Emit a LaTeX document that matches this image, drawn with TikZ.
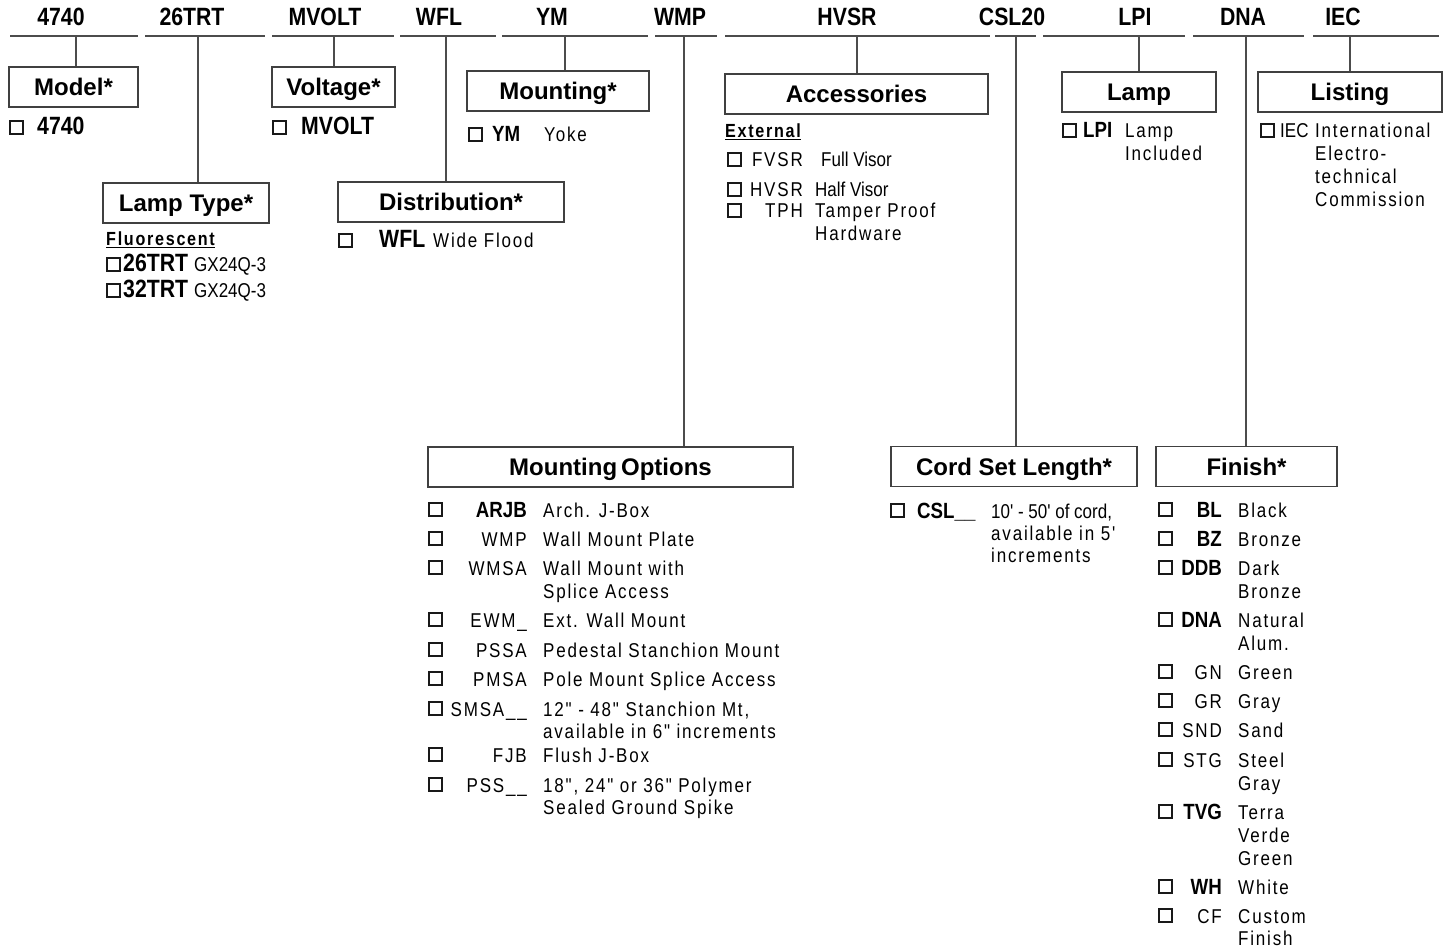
\documentclass[tikz,border=0pt]{standalone}
\usepackage{fontspec}
\setmainfont{Liberation Sans}
\newfontfamily\narrowfam{Liberation Sans}[FakeStretch=0.85]
\newfontfamily\spacedfam{Liberation Sans}[FakeStretch=0.85,LetterSpace=9]
\newcommand{\hdrfont}{\narrowfam\bfseries\fontsize{25}{29}\selectfont}
\newcommand{\ttlfont}{\bfseries\fontsize{24}{28}\selectfont}
\newcommand{\codefont}{\narrowfam\bfseries\fontsize{22}{25}\selectfont}
\newcommand{\bigcodefont}{\narrowfam\bfseries\fontsize{25}{29}\selectfont}
\newcommand{\txtfont}{\spacedfam\fontsize{20}{23}\selectfont}
\newcommand{\plainfont}{\narrowfam\fontsize{20}{23}\selectfont}
\newcommand{\subfont}{\spacedfam\bfseries\fontsize{19}{22}\selectfont}

\tikzset{
  rule/.style={draw=black!70, line width=1.4pt},
  catbox/.style={draw=black!75, line width=1.4pt, inner sep=0pt, minimum height=40pt,
    text height=17pt, text depth=0pt, font=\ttlfont},
  chk/.style={draw=black!90, line width=1.6pt, minimum size=13pt, inner sep=0pt, anchor=south west},
  hcode/.style={font=\hdrfont, anchor=base, inner sep=0pt},
  bigcode/.style={font=\bigcodefont, anchor=base west, inner sep=0pt},
  code/.style={font=\codefont, anchor=base west, inner sep=0pt},
  txt/.style={font=\txtfont, anchor=base west, inner sep=0pt},
  plain/.style={font=\plainfont, anchor=base west, inner sep=0pt},
  sub/.style={font=\subfont, anchor=base west, inner sep=0pt}
}

\begin{document}
\begin{tikzpicture}[x=1pt,y=-1pt]
\useasboundingbox (0,0) rectangle (1455,949);

% catalog number row
\foreach \c/\x/\a/\b/\j in {4740/61/10/138/76, 26TRT/192/145/265/198,
    MVOLT/325/272/394/334, WFL/439/400/496/446, YM/552/502/648/565,
    WMP/680/655/717/684, HVSR/847/725/990/857, CSL20/1012/995/1036/1016,
    LPI/1135/1043/1185/1139, DNA/1243/1193/1304/1246, IEC/1343/1313/1439/1350}{
  \node[hcode] (h\c) at (\x,26) {\c};
  \draw[rule] (\a,36) -- (\b,36);
  \coordinate (j\c) at (\j,36);
}

% category boxes
\node[catbox, minimum width=129pt] (model) at (73.5,87) {Model*};
\node[catbox, minimum width=123pt] (volt) at (333.5,87) {Voltage*};
\node[catbox, minimum width=182pt] (mount) at (558,91) {Mounting*};
\node[catbox, minimum width=263pt] (acc) at (856.5,94) {Accessories};
\node[catbox, minimum width=154pt] (lamp) at (1139,92) {Lamp};
\node[catbox, minimum width=184pt] (list) at (1350,92) {Listing};
\node[catbox, minimum width=166pt] (ltype) at (186,203) {Lamp Type*};
\node[catbox, minimum width=226pt] (dist) at (451,202) {Distribution*};
\node[catbox, minimum width=365pt] (mopt) at (610.5,467) {Mounting\,Options};
\node[catbox, minimum width=246pt] (cord) at (1014,466.5) {Cord Set Length*};
\node[catbox, minimum width=181pt] (fin) at (1246.5,466.5) {Finish*};

\foreach \c/\n in {4740/model, 26TRT/ltype, MVOLT/volt, WFL/dist, YM/mount,
    WMP/mopt, HVSR/acc, CSL20/cord, LPI/lamp, DNA/fin, IEC/list}
  \draw[rule] (j\c) -- (j\c |- \n.north);

% model, voltage, mounting
\node[chk] (k4740) at (9,135) {};
\node[bigcode] (o4740) at (37,135) {4740};
\node[chk] (kmv) at (272,135) {};
\node[bigcode] (omv) at (301,135) {MVOLT};
\node[chk] (kym) at (468,142) {};
\node[code] (oym) at (492,142) {YM};
\node[txt] (dym) at (544,142) {Yoke};

% lamp type
\node[sub] (fluo) at (106,246) {\underline{Fluorescent}};
\node[chk] (k26) at (106,272) {};
\node[bigcode] (o26) at (123,272) {26TRT};
\node[plain] (d26) at (194,272) {GX24Q-3};
\node[chk] (k32) at (106,298) {};
\node[bigcode] (o32) at (123,298) {32TRT};
\node[plain] (d32) at (194,298) {GX24Q-3};

% distribution
\node[chk] (kwfl) at (338,248) {};
\node[bigcode] (owfl) at (379,248) {WFL};
\node[txt] (dwfl) at (433,248) {Wide Flood};

% accessories
\node[sub] (ext) at (725,138) {\underline{External}};
\node[chk] (kfv) at (727,167) {};
\node[txt, anchor=base east] (ofv) at (803,167) {FVSR};
\node[plain] (dfv) at (821,167) {Full Visor};
\node[chk] (khv) at (727,197) {};
\node[txt, anchor=base east] (ohv) at (803,197) {HVSR};
\node[plain] (dhv) at (815,197) {Half Visor};
\node[chk] (ktph) at (727,218) {};
\node[txt, anchor=base east] (otph) at (803,218) {TPH};
\node[txt] (dtph) at (815,218) {Tamper Proof};
\node[txt] (dtph2) at (815,241) {Hardware};

% lamp
\node[chk] (klpi) at (1062,138) {};
\node[code] (olpi) at (1083,138) {LPI};
\node[txt] (dlpi) at (1125,138) {Lamp};
\node[txt] (dlpi2) at (1125,161) {Included};

% listing
\node[chk] (kiec) at (1260,138) {};
\node[plain] (oiec) at (1280,138) {IEC};
\node[txt] (diec) at (1315,138) {International};
\node[txt] (diec2) at (1315,161) {Electro-};
\node[txt] (diec3) at (1315,184) {technical};
\node[txt] (diec4) at (1315,207) {Commission};

% mounting options
\foreach \y/\cd/\ds in {517/{\codefont ARJB}/{Arch. J-Box}, 546/WMP/{Wall Mount Plate},
    575/WMSA/{Wall Mount with}, 627/EWM\_/{Ext. Wall Mount},
    657/PSSA/{Pedestal Stanchion Mount}, 686/PMSA/{Pole Mount Splice Access},
    716/SMSA\_\_/{12" - 48" Stanchion Mt,}, 762/FJB/{Flush J-Box},
    792/PSS\_\_/{18", 24" or 36"  Polymer}}{
  \node[chk] (km\y) at (428,\y) {};
  \node[txt, anchor=base east] (om\y) at (527,\y) {\cd};
  \node[txt] (dm\y) at (543,\y) {\ds};
}
\node[txt] (dm598) at (543,598) {Splice Access};
\node[txt] (dm738) at (543,738) {available in 6" increments};
\node[txt] (dm814) at (543,814) {Sealed Ground Spike};

% cord set length
\node[chk] (kcsl) at (890,518) {};
\node[code] (ocsl) at (917,518) {CSL\_\_};
\node[plain] (dcsl) at (991,518) {10' - 50' of cord,};
\node[txt] (dcsl2) at (991,540) {available in 5'};
\node[txt] (dcsl3) at (991,562) {increments};

% finish
\foreach \y/\cd/\ds in {517/{\codefont BL}/Black, 546/{\codefont BZ}/Bronze,
    575/{\codefont DDB}/Dark, 627/{\codefont DNA}/Natural, 679/GN/Green,
    708/GR/Gray, 737/SND/Sand, 767/STG/Steel, 819/{\codefont TVG}/Terra,
    894/{\codefont WH}/White, 923/CF/Custom}{
  \node[chk] (kf\y) at (1158,\y) {};
  \node[txt, anchor=base east] (of\y) at (1222,\y) {\cd};
  \node[txt] (df\y) at (1238,\y) {\ds};
}
\node[txt] (df598) at (1238,598) {Bronze};
\node[txt] (df650) at (1238,650) {Alum.};
\node[txt] (df790) at (1238,790) {Gray};
\node[txt] (df842) at (1238,842) {Verde};
\node[txt] (df865) at (1238,865) {Green};
\node[txt] (df945) at (1238,945) {Finish};
\end{tikzpicture}
\end{document}
